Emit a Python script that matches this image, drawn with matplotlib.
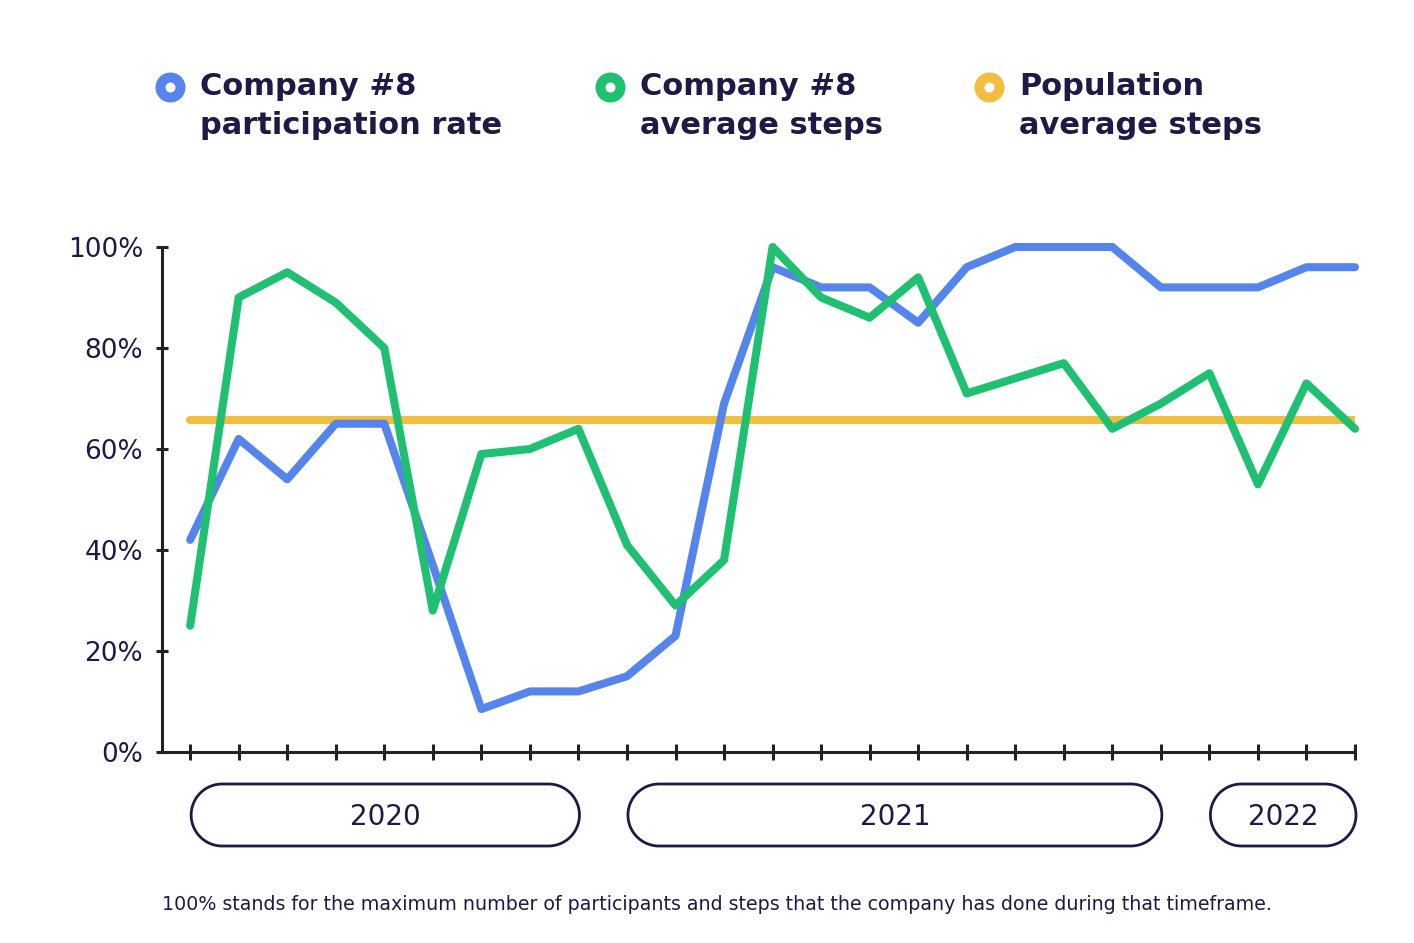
import matplotlib.pyplot as plt
import numpy as np
from matplotlib.patches import Polygon

# monthly values (% of the company's max in that timeframe), Apr 2020 - Apr 2022
participation = [42, 62, 54, 65, 65, 37, 8.5, 12, 12, 15, 23, 69, 96,
                 92, 92, 85, 96, 100, 100, 100, 92, 92, 92, 96, 96]
avg_steps = [25, 90, 95, 89, 80, 28, 59, 60, 64, 41, 29, 38, 100,
             90, 86, 94, 71, 74, 77, 64, 69, 75, 53, 73, 64]
population_avg = 65.7

years = ['2020', '2021', '2022']
year_first = [0, 9, 21]   # index of first month in each year
year_last = [8, 20, 24]   # index of last month in each year

series_names = ['Company #8\nparticipation rate', 'Company #8\naverage steps',
                'Population\naverage steps']
colors = ['#5585ec', '#20c072', '#f2be40']
navy = '#1d1b46'
axis_col = '#222222'

W, H = 1414, 943
fig = plt.figure(figsize=(W / 100, H / 100), dpi=100)
ax = fig.add_axes([162 / W, 1 - 752 / H, (1355 - 162) / W, (752 - 247) / H])

months = list(range(len(participation)))
lw = 5.8
ax.hlines(population_avg, months[0], months[-1], color=colors[2], lw=lw,
          capstyle='round', zorder=2)
ax.plot(months, participation, color=colors[0], lw=lw, solid_capstyle='round',
        solid_joinstyle='round', clip_on=False, zorder=3)
ax.plot(months, avg_steps, color=colors[1], lw=lw, solid_capstyle='round',
        solid_joinstyle='round', clip_on=False, zorder=4)

ax.set_xlim(-0.58, months[-1])
ax.set_ylim(0, 100)
ax.set_xticks(months)
ax.set_xticklabels([])
ax.set_yticks([0, 20, 40, 60, 80, 100])
ax.set_yticklabels(['0%', '20%', '40%', '60%', '80%', '100%'])
for s in ['top', 'right']:
    ax.spines[s].set_visible(False)
for s in ['left', 'bottom']:
    ax.spines[s].set_linewidth(2.2)
    ax.spines[s].set_color(axis_col)
ax.tick_params(axis='x', direction='inout', length=11, width=2.2, color=axis_col)
ax.tick_params(axis='y', direction='inout', length=9, width=2.2, color=axis_col,
               pad=9, labelsize=19, labelcolor=navy)

# overlay in pixel coordinates for pills and legend
ov = fig.add_axes([0, 0, 1, 1], zorder=-1)
ov.set_xlim(0, W)
ov.set_ylim(0, H)
ov.axis('off')


def pill(x0, x1, yc, r):
    t1 = np.linspace(np.pi / 2, 3 * np.pi / 2, 60)
    t2 = np.linspace(-np.pi / 2, np.pi / 2, 60)
    left = np.column_stack([x0 + r + r * np.cos(t1), yc + r * np.sin(t1)])
    right = np.column_stack([x1 - r + r * np.cos(t2), yc + r * np.sin(t2)])
    return Polygon(np.vstack([left, right]), closed=True, fc='white', ec=navy, lw=2)


pill_yc = H - 815
pill_r = 31
for name, i0, i1 in zip(years, year_first, year_last):
    x0 = ax.transData.transform((i0, 0))[0] + 1
    x1 = ax.transData.transform((i1, 0))[0] + 1
    ov.add_patch(pill(x0, x1, pill_yc, pill_r))
    ov.text((x0 + x1) / 2, pill_yc - 2, name, ha='center', va='center',
            fontsize=20, color=navy)

# legend
leg_x = [170, 610, 989]
for x, name, c in zip(leg_x, series_names, colors):
    ov.plot(x, H - 87, 'o', ms=14.4, mfc='white', mec=c, mew=7.2)
    ov.text(x + 30, H - 72, name, ha='left', va='top', fontsize=22,
            fontweight='bold', color=navy, linespacing=1.45)

fig.text(162 / W, 1 - 904 / H,
         '100% stands for the maximum number of participants and steps that the '
         'company has done during that timeframe.',
         ha='left', va='center', fontsize=13.7, color=navy)

fig.savefig('out.png', dpi=100, facecolor='white')
